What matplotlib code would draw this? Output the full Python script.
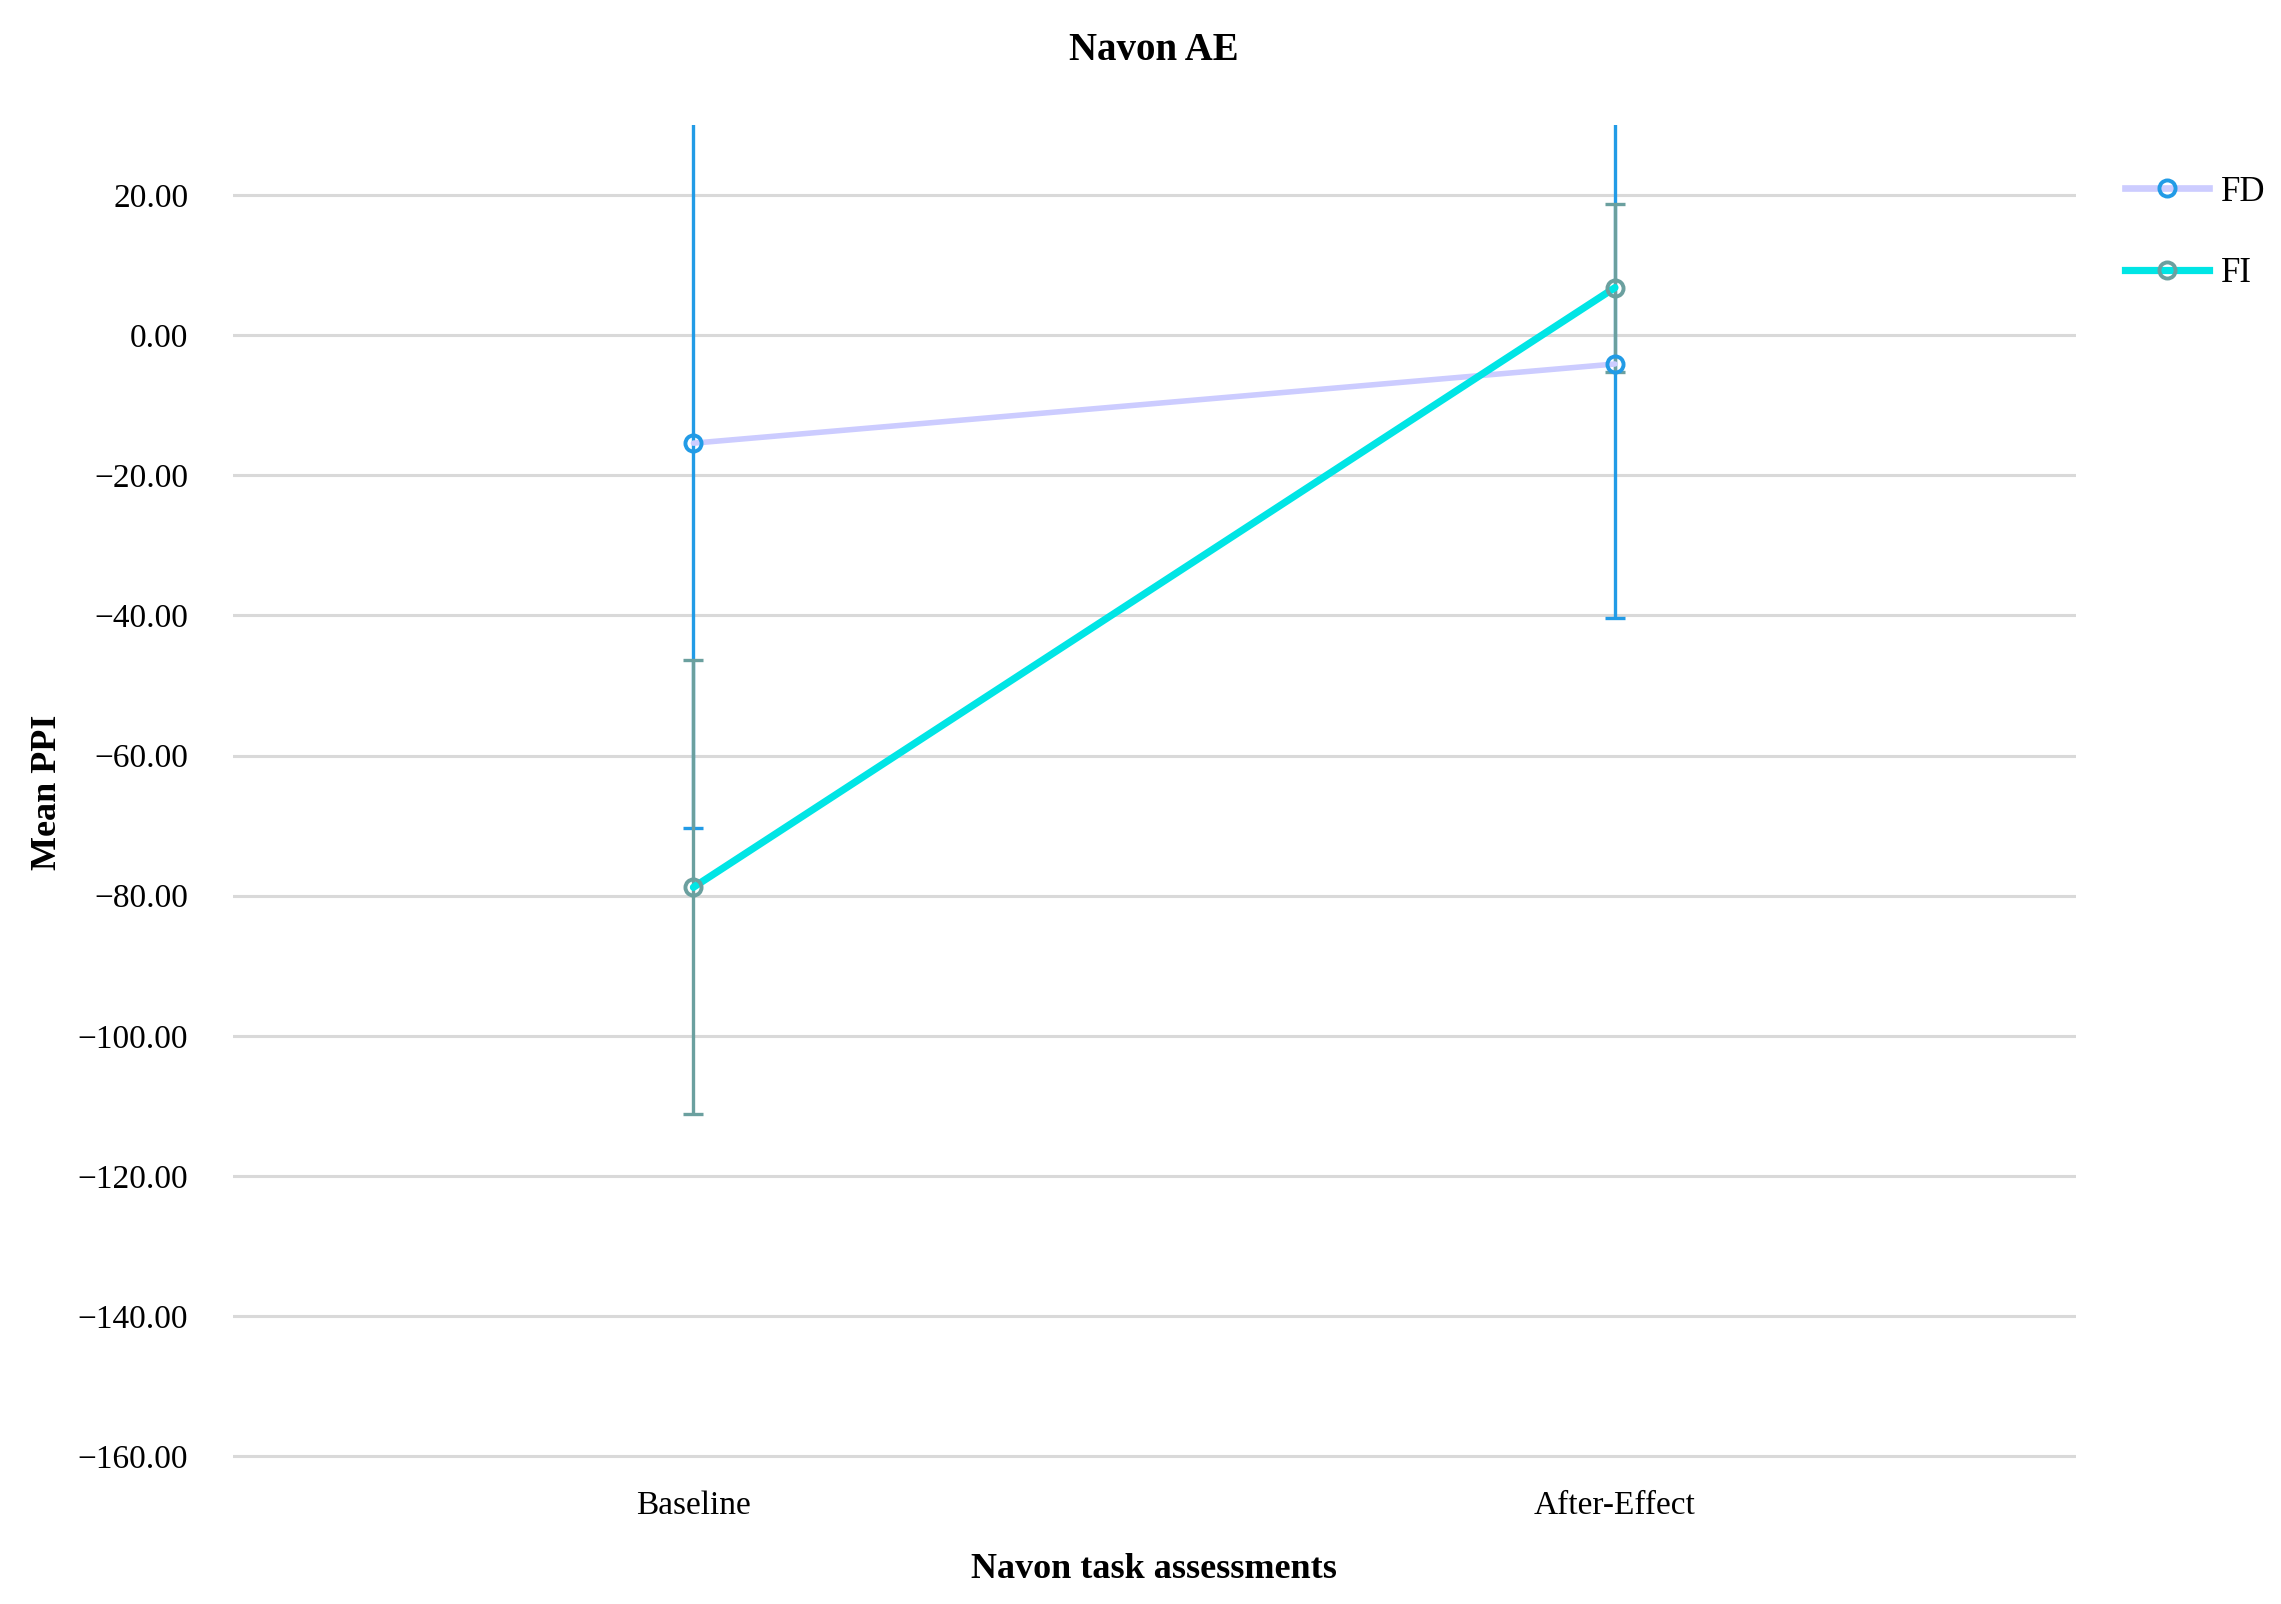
import matplotlib
matplotlib.use('Agg')
import matplotlib.pyplot as plt
from matplotlib.ticker import FuncFormatter, MultipleLocator
from matplotlib.lines import Line2D

plt.rcParams['font.family'] = ['Liberation Serif', 'DejaVu Serif']

# data
categories = ['Baseline', 'After-Effect']
fd_means = [-15.4, -4.1]
fd_err = [54.9, 36.2]
fi_means = [-78.8, 6.8]
fi_err = [32.4, 12.0]

fd_line = '#CCCCFF'
fd_mark = '#229BE6'
fi_line = '#00E5E5'
fi_mark = '#6BA09F'

fig = plt.figure(figsize=(11.405, 8.02), dpi=200)
ax = fig.add_axes([0.102, 0.090, 0.808, 0.832])

x = list(range(len(categories)))

# error bars first, lines and markers on top
ax.errorbar(x, fd_means, yerr=fd_err, fmt='none', ecolor=fd_mark,
            elinewidth=1.2, capsize=3.6, capthick=1.2, zorder=3)
ax.errorbar(x, fi_means, yerr=fi_err, fmt='none', ecolor=fi_mark,
            elinewidth=1.2, capsize=3.6, capthick=1.2, zorder=4)
ax.plot(x, fd_means, color=fd_line, lw=2.0, solid_capstyle='round', zorder=5)
ax.plot(x, fi_means, color=fi_line, lw=2.6, solid_capstyle='round', zorder=6)
ax.plot(x, fd_means, 'o', ms=5.8, mfc='none', mec=fd_mark, mew=1.4, zorder=7)
ax.plot(x, fi_means, 'o', ms=5.8, mfc='none', mec=fi_mark, mew=1.4, zorder=8)

ax.set_xlim(-0.5, 1.5)
ax.set_ylim(-160.5, 30)
ax.yaxis.set_major_locator(MultipleLocator(20))
ax.yaxis.set_major_formatter(FuncFormatter(lambda v, p: f'{v:.2f}'.replace('-', '\u2212')))
ax.set_xticks(x)
ax.set_xticklabels(categories)

ax.grid(axis='y', color='#D9D9D9', lw=1.1)
ax.set_axisbelow(True)
for s in ax.spines.values():
    s.set_visible(False)
ax.tick_params(axis='both', length=0, labelsize=12)
ax.tick_params(axis='y', pad=16)
ax.tick_params(axis='x', pad=11)

ax.set_title('Navon AE', fontsize=14, fontweight='bold', pad=23.5)
ax.set_xlabel('Navon task assessments', fontsize=13, fontweight='bold', labelpad=11.5)
ax.set_ylabel('Mean PPI', fontsize=13, fontweight='bold', labelpad=5)

handles = [
    Line2D([], [], color=fd_line, lw=2.4, marker='o', ms=5.8, mfc='none', mec=fd_mark, mew=1.4),
    Line2D([], [], color=fi_line, lw=2.6, marker='o', ms=5.8, mfc='none', mec=fi_mark, mew=1.4),
]
fig.legend(handles, ['FD', 'FI'], loc='upper left', bbox_to_anchor=(0.918, 0.910),
           frameon=False, fontsize=12.5, handlelength=2.4, handletextpad=0.35,
           labelspacing=1.4)

fig.savefig('out.png', dpi=200)
